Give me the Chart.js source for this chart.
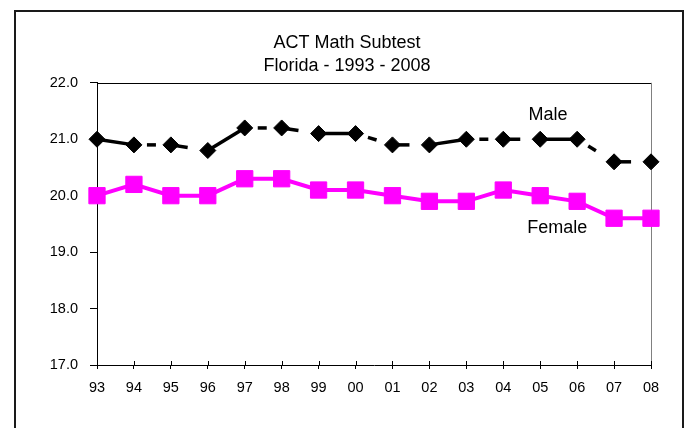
<!DOCTYPE html>
<html lang="en">
<head>
    <meta charset="UTF-8">
    <title>ACT Math Subtest</title>
    <script src="https://cdn.jsdelivr.net/npm/chart.js"></script>
    <style>
        html, body { margin: 0; padding: 0; background: #fff; }
        body { width: 686px; height: 428px; position: relative; overflow: hidden; }
        .frame {
            position: absolute; left: 14px; top: 10px;
            width: 666px; height: 440px;
            border: 2px solid #1a1a1a; border-bottom: none;
        }
        canvas { position: absolute; left: 0; top: 0; }
    </style>
</head>
<body>
    <div class="frame"></div>
    <canvas id="actChart" width="686" height="428"></canvas>

    <script>
        const years = ['93', '94', '95', '96', '97', '98', '99', '00', '01', '02', '03', '04', '05', '06', '07', '08'];
        const maleScores = [21.0, 20.9, 20.9, 20.8, 21.2, 21.2, 21.1, 21.1, 20.9, 20.9, 21.0, 21.0, 21.0, 21.0, 20.6, 20.6];
        const femaleScores = [20.0, 20.2, 20.0, 20.0, 20.3, 20.3, 20.1, 20.1, 20.0, 19.9, 19.9, 20.1, 20.0, 19.9, 19.6, 19.6];
        const titleLines = ['ACT Math Subtest', 'Florida - 1993 - 2008'];

        Chart.defaults.font.family = "'Liberation Sans', Arial, sans-serif";
        Chart.defaults.color = '#000';

        // the male line repeats solid / dash in the middle / dash at the start
        function maleDash(ctx) {
            const k = ctx.p0DataIndex % 3;
            if (k === 1) return [0, 13, 9, 200];
            if (k === 2) return [17, 200];
            return [];
        }

        // plot box edges, tick marks above the x axis and the series labels
        const plotExtras = {
            id: 'plotExtras',
            beforeDatasetsDraw(chart) {
                const { ctx, chartArea: a } = chart;
                ctx.save();
                ctx.lineWidth = 1;
                ctx.strokeStyle = '#000';
                ctx.beginPath();
                ctx.moveTo(a.left, Math.round(a.top) + 0.5);
                ctx.lineTo(a.right, Math.round(a.top) + 0.5);
                ctx.stroke();
                ctx.strokeStyle = '#808080';
                ctx.beginPath();
                ctx.moveTo(Math.round(a.right) + 0.5, a.top);
                ctx.lineTo(Math.round(a.right) + 0.5, a.bottom);
                ctx.stroke();
                ctx.strokeStyle = '#000';
                ctx.beginPath();
                const x = chart.scales.x;
                x.ticks.forEach((t, i) => {
                    const px = Math.round(x.getPixelForTick(i)) + 0.5;
                    ctx.moveTo(px, a.bottom - 4);
                    ctx.lineTo(px, a.bottom);
                });
                ctx.stroke();
                ctx.restore();
            },
            afterDatasetsDraw(chart) {
                const { ctx, scales: { x, y } } = chart;
                ctx.save();
                ctx.font = "18px 'Liberation Sans', Arial, sans-serif";
                ctx.fillStyle = '#000';
                ctx.textAlign = 'left';
                ctx.textBaseline = 'middle';
                ctx.fillText('Male', x.getPixelForValue(11.68), y.getPixelForValue(21.43));
                ctx.fillText('Female', x.getPixelForValue(11.65), y.getPixelForValue(19.43));
                ctx.restore();
            }
        };

        new Chart(document.getElementById('actChart'), {
            type: 'line',
            data: {
                labels: years,
                datasets: [{
                    label: 'Male',
                    data: maleScores,
                    borderColor: '#000',
                    backgroundColor: '#000',
                    borderWidth: 3.5,
                    pointStyle: 'rectRot',
                    pointRadius: 8,
                    pointBorderWidth: 1,
                    tension: 0,
                    clip: false,
                    segment: { borderDash: maleDash }
                }, {
                    label: 'Female',
                    data: femaleScores,
                    borderColor: '#ff00ff',
                    backgroundColor: '#ff00ff',
                    borderWidth: 4,
                    pointStyle: 'rect',
                    pointRadius: 11.5,
                    pointBorderWidth: 1,
                    tension: 0,
                    clip: false
                }]
            },
            options: {
                responsive: false,
                animation: false,
                layout: { padding: { left: 8, right: 0, top: 0, bottom: 0 } },
                plugins: {
                    legend: { display: false },
                    tooltip: { enabled: false },
                    title: {
                        display: true,
                        text: titleLines,
                        color: '#000',
                        font: { size: 18, weight: 'normal', lineHeight: 1.3 },
                        padding: { top: 31, bottom: 5 }
                    }
                },
                scales: {
                    x: {
                        offset: false,
                        grid: { drawOnChartArea: false, tickLength: 4, color: '#000' },
                        border: { color: '#000', width: 1 },
                        ticks: { font: { size: 14.5 }, padding: 10, maxRotation: 0, autoSkip: false },
                        afterFit(scale) { scale.height = 63; }
                    },
                    y: {
                        min: 17,
                        max: 22,
                        grid: { drawOnChartArea: false, tickLength: 7, color: '#000' },
                        border: { color: '#000', width: 1 },
                        ticks: {
                            stepSize: 1,
                            font: { size: 14.5 },
                            padding: 12,
                            callback: v => Number(v).toFixed(1)
                        },
                        afterFit(scale) { scale.width = 89; }
                    },
                    // empty right-hand space so the title centres on the whole frame
                    side: {
                        position: 'right',
                        ticks: { display: false },
                        grid: { display: false },
                        border: { display: false },
                        afterFit(scale) { scale.width = 35; }
                    }
                }
            },
            plugins: [plotExtras]
        });
    </script>
</body>
</html>
